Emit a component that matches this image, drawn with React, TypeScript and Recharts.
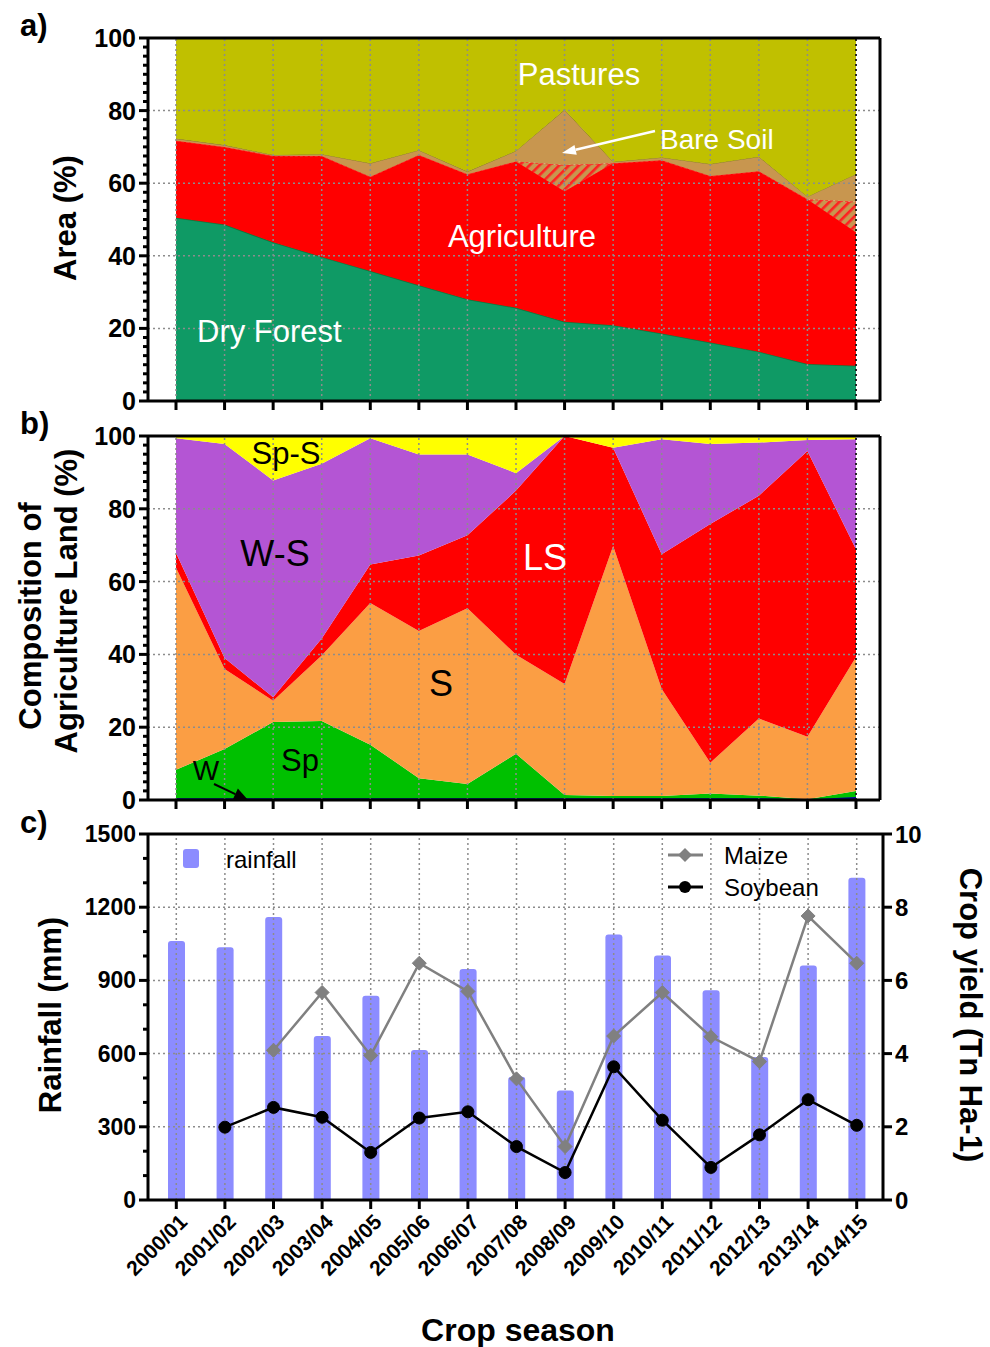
import React from "react";
import {
  AreaChart,
  Area,
  ComposedChart,
  Bar,
  Line,
  XAxis,
  YAxis,
  ReferenceLine,
} from "recharts";

const FONT = "'Liberation Sans', Arial, sans-serif";

// ---------- data ----------
const seasons = [
  "2000/01", "2001/02", "2002/03", "2003/04", "2004/05", "2005/06", "2006/07", "2007/08",
  "2008/09", "2009/10", "2010/11", "2011/12", "2012/13", "2013/14", "2014/15",
];

// panel a) land cover (% of area), stacked bottom -> top
const dryForest = [50.5, 48.6, 43.7, 39.7, 35.8, 31.9, 28.0, 25.7, 21.8, 20.9, 18.6, 16.1, 13.6, 10.2, 9.7];
const agriculture = [21.2, 21.4, 23.8, 27.8, 26.0, 35.9, 34.5, 40.3, 36.0, 44.6, 47.7, 45.9, 49.7, 45.4, 36.8];
const bareSoilHatched = [0, 0, 0, 0, 0, 0, 0, 0, 7.2, 0, 0, 0, 0, 0, 8.4];
const bareSoil = [0.6, 0.5, 0.3, 0.5, 3.7, 1.3, 0.7, 2.9, 15.2, 0.4, 0.8, 3.3, 4.0, 0.7, 7.6];
const pastures = [27.7, 29.5, 32.2, 32.0, 34.5, 30.9, 36.8, 31.1, 19.8, 34.1, 32.9, 34.7, 32.7, 43.7, 37.5];

// panel b) composition of agriculture land (%), stacked bottom -> top
const W = [0.5, 0.5, 0.5, 0.5, 0.5, 0.5, 0.5, 0.5, 0.5, 0.5, 0.5, 0.5, 0.5, 0.2, 0.8];
const Sp = [7.8, 13.5, 20.9, 21.2, 14.7, 5.5, 3.9, 12.2, 0.9, 0.6, 0.6, 1.3, 0.7, 0.0, 1.7];
const S = [55.5, 22.0, 5.9, 18.0, 38.9, 40.4, 48.3, 27.2, 30.5, 68.7, 29.4, 8.4, 21.2, 17.2, 36.8];
const LS = [4.1, 3.0, 0.9, 4.7, 10.6, 20.8, 20.0, 45.1, 68.1, 27.0, 37.0, 65.6, 61.2, 78.5, 29.6];
const WS = [31.5, 58.8, 59.6, 48.0, 34.7, 27.7, 22.2, 4.8, 0, 0, 31.6, 22.0, 14.6, 3.0, 30.2];
const SpS = [0.6, 2.2, 12.2, 7.6, 0.6, 5.1, 5.1, 10.2, 0, 3.2, 0.9, 2.2, 1.8, 1.1, 0.9];

// panel c) rainfall (mm) and crop yield (Tn/Ha)
const rainfall = [1061, 1036, 1160, 672, 837, 615, 947, 505, 449, 1088, 1002, 860, 586, 961, 1321];
const maize = [null, null, 4.09, 5.67, 3.95, 6.47, 5.70, 3.31, 1.46, 4.48, 5.67, 4.46, 3.78, 7.76, 6.47];
const soybean = [null, 1.99, 2.53, 2.26, 1.30, 2.24, 2.41, 1.46, 0.75, 3.64, 2.18, 0.89, 1.78, 2.74, 2.04];

// axis ticks
const pctTicks = Array.from({ length: 41 }, (_, i) => i * 2.5);
const rainTicks = Array.from({ length: 16 }, (_, i) => i * 100);
const yieldTicks = [0, 2, 4, 6, 8, 10];
const pctGrid = [20, 40, 60, 80];
const rainGrid = [300, 600, 900, 1200];

const dataA = seasons.map((s, i) => ({
  season: s,
  dryForest: dryForest[i],
  agriculture: agriculture[i],
  bareSoilHatched: bareSoilHatched[i],
  bareSoil: bareSoil[i],
  pastures: pastures[i],
}));
const dataB = seasons.map((s, i) => ({
  season: s, W: W[i], Sp: Sp[i], S: S[i], LS: LS[i], WS: WS[i], SpS: SpS[i],
}));
const dataC = seasons.map((s, i) => ({
  season: s, rainfall: rainfall[i], maize: maize[i], soybean: soybean[i],
}));

// ---------- helpers ----------
const GRID = { stroke: "#8c8c8c", strokeWidth: 1.5, strokeDasharray: "2 3" };

function makeYTick(major: number, side: "left" | "right", fontSize: number, minorLen = 5) {
  return (props: any) => {
    const { x, y, payload } = props;
    const v = payload.value;
    const isMajor = Math.abs(v / major - Math.round(v / major)) < 1e-6;
    const dir = side === "left" ? -1 : 1;
    const len = isMajor ? 9 : minorLen;
    return (
      <g>
        <line x1={x} x2={x + dir * len} y1={y} y2={y} stroke="#000" strokeWidth={3} />
        {isMajor && (
          <text
            x={x + dir * 12}
            y={y}
            textAnchor={side === "left" ? "end" : "start"}
            dominantBaseline="central"
            fontSize={fontSize}
            fontWeight="bold"
            fontFamily={FONT}
            fill="#000"
          >
            {v}
          </text>
        )}
      </g>
    );
  };
}

const XTickC = (props: any) => {
  const { x, y, payload } = props;
  return (
    <g>
      <line x1={x} x2={x} y1={y} y2={y + 9} stroke="#000" strokeWidth={3} />
      <text
        transform={`translate(${x + 7},${y + 18}) rotate(-45)`}
        textAnchor="end"
        dominantBaseline="central"
        fontSize={21}
        fontWeight="bold"
        fontFamily={FONT}
        fill="#000"
      >
        {payload.value}
      </text>
    </g>
  );
};

const DiamondDot = (props: any) => {
  const { cx, cy, index } = props;
  if (cx == null || cy == null || Number.isNaN(cy)) return <g key={`md${index}`} />;
  const r = 7;
  return (
    <path
      key={`md${index}`}
      d={`M${cx},${cy - r}L${cx + r},${cy}L${cx},${cy + r}L${cx - r},${cy}Z`}
      fill="#808080"
      stroke="#808080"
    />
  );
};

function Arrow({ x1, y1, x2, y2, color, w = 2.5, head = 14, hw = 6 }: any) {
  const dx = x2 - x1, dy = y2 - y1;
  const L = Math.sqrt(dx * dx + dy * dy);
  const ux = dx / L, uy = dy / L;
  const bx = x2 - ux * head, by = y2 - uy * head;
  const px = -uy * hw, py = ux * hw;
  return (
    <g>
      <line x1={x1} y1={y1} x2={bx} y2={by} stroke={color} strokeWidth={w} />
      <polygon points={`${x2},${y2} ${bx + px},${by + py} ${bx - px},${by - py}`} fill={color} />
    </g>
  );
}

const T = (p: any) => (
  <text
    x={p.x}
    y={p.y}
    textAnchor={p.anchor || "middle"}
    dominantBaseline="central"
    fontSize={p.size}
    fontWeight={p.bold ? "bold" : "normal"}
    fontFamily={FONT}
    fill={p.color || "#000"}
    transform={p.rotate ? `rotate(${p.rotate},${p.x},${p.y})` : undefined}
  >
    {p.children}
  </text>
);

// ---------- charts ----------
function PanelA() {
  return (
    <AreaChart width={990} height={420} data={dataA} margin={{ top: 38, right: 108, bottom: 9, left: 88 }}>
      <XAxis
        xAxisId="x"
        dataKey="season"
        padding={{ left: 28, right: 24 }}
        height={10}
        interval={0}
        tickSize={9}
        tickFormatter={() => ""}
        tickLine={{ stroke: "#000", strokeWidth: 3 }}
        axisLine={{ stroke: "#000", strokeWidth: 3 }}
      />
      <YAxis
        yAxisId="l"
        width={60}
        domain={[0, 100]}
        ticks={pctTicks}
        interval={0}
        tickSize={0}
        tickMargin={0}
        tickLine={false}
        tick={makeYTick(20, "left", 25)}
        axisLine={{ stroke: "#000", strokeWidth: 3 }}
      />
      <YAxis
        yAxisId="r"
        orientation="right"
        width={2}
        domain={[0, 100]}
        tick={false}
        tickLine={false}
        axisLine={{ stroke: "#000", strokeWidth: 3 }}
      />
      <Area xAxisId="x" yAxisId="l" type="linear" dataKey="dryForest" stackId="a" fill="#0f9a65" fillOpacity={1} stroke="#0b7a3c" strokeWidth={1.5} dot={false} activeDot={false} isAnimationActive={false} />
      <Area xAxisId="x" yAxisId="l" type="linear" dataKey="agriculture" stackId="a" fill="#ff0000" fillOpacity={1} stroke="#ff0000" strokeWidth={1} dot={false} activeDot={false} isAnimationActive={false} />
      <Area xAxisId="x" yAxisId="l" type="linear" dataKey="bareSoilHatched" stackId="a" fill="url(#hatchBS)" fillOpacity={1} stroke="#ff2a2a" strokeWidth={1.5} strokeDasharray="3 2" dot={false} activeDot={false} isAnimationActive={false} />
      <Area xAxisId="x" yAxisId="l" type="linear" dataKey="bareSoil" stackId="a" fill="#c8964f" fillOpacity={1} stroke="#8a7a2a" strokeWidth={1} dot={false} activeDot={false} isAnimationActive={false} />
      <Area xAxisId="x" yAxisId="l" type="linear" dataKey="pastures" stackId="a" fill="#c0c000" fillOpacity={1} stroke="none" dot={false} activeDot={false} isAnimationActive={false} />
      {pctGrid.map((v) => (
        <ReferenceLine key={`h${v}`} xAxisId="x" yAxisId="l" y={v} {...GRID} />
      ))}
      {seasons.map((s) => (
        <ReferenceLine key={`v${s}`} xAxisId="x" yAxisId="l" x={s} {...GRID} />
      ))}
      <ReferenceLine xAxisId="x" yAxisId="l" x={seasons[seasons.length - 1]} stroke="#000" strokeWidth={1.5} strokeDasharray="2 3" />
      <ReferenceLine xAxisId="x" yAxisId="l" y={100} stroke="#000" strokeWidth={3} />
    </AreaChart>
  );
}

function PanelB() {
  return (
    <AreaChart width={990} height={400} data={dataB} margin={{ top: 16, right: 108, bottom: 10, left: 88 }}>
      <XAxis
        xAxisId="x"
        dataKey="season"
        padding={{ left: 28, right: 24 }}
        height={10}
        interval={0}
        tickSize={9}
        tickFormatter={() => ""}
        tickLine={{ stroke: "#000", strokeWidth: 3 }}
        axisLine={{ stroke: "#000", strokeWidth: 3 }}
      />
      <YAxis
        yAxisId="l"
        width={60}
        domain={[0, 100]}
        ticks={pctTicks}
        interval={0}
        tickSize={0}
        tickMargin={0}
        tickLine={false}
        tick={makeYTick(20, "left", 25)}
        axisLine={{ stroke: "#000", strokeWidth: 3 }}
      />
      <YAxis
        yAxisId="r"
        orientation="right"
        width={2}
        domain={[0, 100]}
        tick={false}
        tickLine={false}
        axisLine={{ stroke: "#000", strokeWidth: 3 }}
      />
      <Area xAxisId="x" yAxisId="l" type="linear" dataKey="W" stackId="b" fill="#0000a0" fillOpacity={1} stroke="#0000a0" strokeWidth={1.5} dot={false} activeDot={false} isAnimationActive={false} />
      <Area xAxisId="x" yAxisId="l" type="linear" dataKey="Sp" stackId="b" fill="#00c000" fillOpacity={1} stroke="none" dot={false} activeDot={false} isAnimationActive={false} />
      <Area xAxisId="x" yAxisId="l" type="linear" dataKey="S" stackId="b" fill="#fb9e44" fillOpacity={1} stroke="none" dot={false} activeDot={false} isAnimationActive={false} />
      <Area xAxisId="x" yAxisId="l" type="linear" dataKey="LS" stackId="b" fill="#ff0000" fillOpacity={1} stroke="none" dot={false} activeDot={false} isAnimationActive={false} />
      <Area xAxisId="x" yAxisId="l" type="linear" dataKey="WS" stackId="b" fill="#b455d4" fillOpacity={1} stroke="none" dot={false} activeDot={false} isAnimationActive={false} />
      <Area xAxisId="x" yAxisId="l" type="linear" dataKey="SpS" stackId="b" fill="#ffff00" fillOpacity={1} stroke="none" dot={false} activeDot={false} isAnimationActive={false} />
      {pctGrid.map((v) => (
        <ReferenceLine key={`h${v}`} xAxisId="x" yAxisId="l" y={v} {...GRID} />
      ))}
      {seasons.map((s) => (
        <ReferenceLine key={`v${s}`} xAxisId="x" yAxisId="l" x={s} {...GRID} />
      ))}
      <ReferenceLine xAxisId="x" yAxisId="l" x={seasons[seasons.length - 1]} stroke="#000" strokeWidth={1.5} strokeDasharray="2 3" />
      <ReferenceLine xAxisId="x" yAxisId="l" y={100} stroke="#000" strokeWidth={3} />
    </AreaChart>
  );
}

function PanelC() {
  return (
    <ComposedChart width={990} height={527} data={dataC} margin={{ top: 14, right: 47, bottom: 0, left: 88 }}>
      <XAxis
        xAxisId="x"
        dataKey="season"
        padding={{ left: 4, right: 2 }}
        height={147}
        interval={0}
        tickSize={0}
        tickMargin={0}
        tickLine={false}
        tick={XTickC}
        axisLine={{ stroke: "#000", strokeWidth: 3 }}
      />
      <YAxis
        yAxisId="l"
        width={60}
        domain={[0, 1500]}
        ticks={rainTicks}
        interval={0}
        tickSize={0}
        tickMargin={0}
        tickLine={false}
        tick={makeYTick(300, "left", 23)}
        axisLine={{ stroke: "#000", strokeWidth: 3 }}
      />
      <YAxis
        yAxisId="r"
        orientation="right"
        width={60}
        domain={[0, 10]}
        ticks={yieldTicks}
        interval={0}
        tickSize={0}
        tickMargin={0}
        tickLine={false}
        tick={makeYTick(2, "right", 24)}
        axisLine={{ stroke: "#000", strokeWidth: 3 }}
      />
      <Bar xAxisId="x" yAxisId="l" dataKey="rainfall" fill="#8c8cff" barSize={17} radius={[3, 3, 0, 0]} isAnimationActive={false} />
      {rainGrid.map((v) => (
        <ReferenceLine key={`h${v}`} xAxisId="x" yAxisId="l" y={v} {...GRID} />
      ))}
      {seasons.map((s) => (
        <ReferenceLine key={`v${s}`} xAxisId="x" yAxisId="l" x={s} {...GRID} />
      ))}
      <ReferenceLine xAxisId="x" yAxisId="l" y={1500} stroke="#000" strokeWidth={3} />
      <Line xAxisId="x" yAxisId="r" type="linear" dataKey="maize" stroke="#808080" strokeWidth={2.5} dot={DiamondDot} activeDot={false} isAnimationActive={false} />
      <Line xAxisId="x" yAxisId="r" type="linear" dataKey="soybean" stroke="#000" strokeWidth={2.5} dot={{ r: 6, fill: "#000", stroke: "#000", strokeWidth: 1 }} activeDot={false} isAnimationActive={false} />
    </ComposedChart>
  );
}

export default function App() {
  return (
    <div style={{ position: "absolute", left: 0, top: 0, width: 990, height: 1347, background: "#fff", fontFamily: FONT }}>
      <svg width={0} height={0} style={{ position: "absolute" }}>
        <defs>
          <pattern id="hatchBS" patternUnits="userSpaceOnUse" width={7} height={7} patternTransform="rotate(45)">
            <rect width={7} height={7} fill="#c8964f" />
            <rect width={2.6} height={7} fill="#ff2020" />
          </pattern>
        </defs>
      </svg>
      <div style={{ position: "absolute", left: 0, top: 0 }}>
        <PanelA />
      </div>
      <div style={{ position: "absolute", left: 0, top: 420 }}>
        <PanelB />
      </div>
      <div style={{ position: "absolute", left: 0, top: 820 }}>
        <PanelC />
      </div>
      <svg width={990} height={1347} style={{ position: "absolute", left: 0, top: 0, pointerEvents: "none" }}>
        {/* panel letters */}
        <T x={20} y={25} size={31} bold anchor="start">a)</T>
        <T x={20} y={423} size={31} bold anchor="start">b)</T>
        <T x={20} y={822} size={31} bold anchor="start">c)</T>
        {/* axis titles */}
        <T x={65} y={218} size={31} bold rotate={-90}>Area (%)</T>
        <T x={30} y={616} size={31} bold rotate={-90}>Composition of</T>
        <T x={66} y={601} size={31} bold rotate={-90}>Agriculture Land (%)</T>
        <T x={50} y={1015} size={31} bold rotate={-90}>Rainfall (mm)</T>
        <T x={970} y={1015} size={31} bold rotate={90}>Crop yield (Tn Ha-1)</T>
        <T x={518} y={1330} size={32} bold>Crop season</T>
        {/* panel a labels */}
        <T x={579} y={74} size={31} color="#fff">Pastures</T>
        <T x={660} y={139} size={28} color="#fff" anchor="start">Bare Soil</T>
        <Arrow x1={655} y1={131} x2={562} y2={153} color="#fff" w={2.5} head={14} hw={5} />
        <T x={522} y={236} size={31} color="#fff">Agriculture</T>
        <T x={197} y={331} size={31} color="#fff" anchor="start">Dry Forest</T>
        {/* panel b labels */}
        <T x={286} y={453} size={31}>Sp-S</T>
        <T x={275} y={553} size={36}>W-S</T>
        <T x={545} y={557} size={36} color="#fff">LS</T>
        <T x={441} y={683} size={36}>S</T>
        <T x={300} y={760} size={31}>Sp</T>
        <T x={206} y={770} size={28}>W</T>
        <Arrow x1={214} y1={784} x2={248} y2={800} color="#000" w={2} head={14} hw={6} />
        {/* panel c legend */}
        <rect x={183} y={849} width={16} height={19} rx={3} fill="#8c8cff" />
        <T x={226} y={859} size={24} anchor="start">rainfall</T>
        <line x1={668} x2={703} y1={855} y2={855} stroke="#808080" strokeWidth={3} />
        <path d="M685,848L692,855L685,862L678,855Z" fill="#808080" />
        <T x={724} y={855} size={24} anchor="start">Maize</T>
        <line x1={668} x2={703} y1={887} y2={887} stroke="#000" strokeWidth={3} />
        <circle cx={685} cy={887} r={6} fill="#000" />
        <T x={724} y={887} size={24} anchor="start">Soybean</T>
      </svg>
    </div>
  );
}
